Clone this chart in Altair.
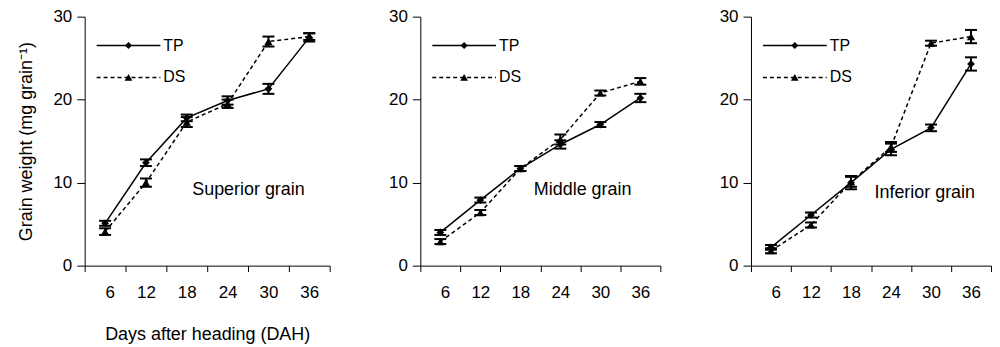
import altair as alt
import pandas as pd

days = [6, 12, 18, 24, 30, 36]
series_names = ["TP", "DS"]

sup_tp = [5.1, 12.4, 17.8, 19.9, 21.3, 27.5]
sup_tp_err = [0.3, 0.4, 0.4, 0.5, 0.6, 0.5]
sup_ds = [4.1, 10.0, 17.3, 19.5, 27.0, 27.6]
sup_ds_err = [0.4, 0.5, 0.6, 0.5, 0.6, 0.4]

mid_tp = [4.0, 7.9, 11.7, 14.6, 17.0, 20.2]
mid_tp_err = [0.3, 0.3, 0.3, 0.5, 0.3, 0.5]
mid_ds = [2.9, 6.4, 11.7, 15.2, 20.8, 22.2]
mid_ds_err = [0.3, 0.3, 0.3, 0.6, 0.3, 0.4]

inf_tp = [2.2, 6.1, 10.0, 14.0, 16.6, 24.3]
inf_tp_err = [0.3, 0.3, 0.8, 0.7, 0.4, 0.8]
inf_ds = [1.8, 4.9, 10.1, 14.3, 26.8, 27.6]
inf_ds_err = [0.3, 0.3, 0.6, 0.6, 0.3, 0.8]

panel_labels = ["Superior grain", "Middle grain", "Inferior grain"]
y_ticks = [0, 10, 20, 30]
x_title = "Days after heading (DAH)"
y_title = "Grain weight (mg grain\u207b\u00b9)"

FONT = "Liberation Sans"
H = 250


def make_df(tp, tp_err, ds, ds_err):
    rows = []
    for name, vals, errs in (("TP", tp, tp_err), ("DS", ds, ds_err)):
        for d, v, e in zip(days, vals, errs):
            rows.append({"day": d, "series": name, "mean": v,
                         "lo": v - e, "hi": v + e})
    return pd.DataFrame(rows)


def panel(tp, tp_err, ds, ds_err, label, width, first, lab_x, lab_y):
    df = make_df(tp, tp_err, ds, ds_err)
    band = width / 6.0
    bounds = [days[0] - 3] + [d + 3 for d in days]
    x_axis = alt.Axis(
        values=bounds,
        labelExpr="datum.value < %d ? format(datum.value + 3, 'd') : ''" % bounds[-1],
        labelOffset=band / 2,
        tickSize=6, labelPadding=13, grid=False,
        title=x_title if first else None,
        titlePadding=25,
    )
    y_axis = alt.Axis(
        values=y_ticks, tickSize=8, labelPadding=5, grid=False,
        title=y_title if first else None, titlePadding=17,
    )
    xs = alt.Scale(domain=[bounds[0], bounds[-1]], nice=False, zero=False)
    ys = alt.Scale(domain=[0, 30], nice=False)
    X = alt.X("day:Q", scale=xs, axis=x_axis)

    def Y(field):
        return alt.Y(field + ":Q", scale=ys, axis=y_axis)

    base = alt.Chart(df)
    tp_line = base.transform_filter(alt.datum.series == "TP").mark_line(
        color="black", strokeWidth=1.5).encode(x=X, y=Y("mean"))
    ds_line = base.transform_filter(alt.datum.series == "DS").mark_line(
        color="black", strokeWidth=1.5, strokeDash=[4, 3]).encode(x=X, y=Y("mean"))
    err = base.mark_rule(color="black", strokeWidth=2).encode(
        x=X, y=Y("lo"), y2="hi:Q")
    cap_lo = base.mark_tick(color="black", size=12, thickness=2, opacity=1,
                            orient="horizontal").encode(x=X, y=Y("lo"))
    cap_hi = base.mark_tick(color="black", size=12, thickness=2, opacity=1,
                            orient="horizontal").encode(x=X, y=Y("hi"))
    tp_pts = base.transform_filter(alt.datum.series == "TP").mark_point(
        shape="diamond", filled=True, color="black", size=60, opacity=1
    ).encode(x=X, y=Y("mean"))
    ds_pts = base.transform_filter(alt.datum.series == "DS").mark_point(
        shape="triangle-up", filled=True, color="black", size=70, opacity=1
    ).encode(x=X, y=Y("mean"))

    # in-plot legend
    leg = alt.Chart(pd.DataFrame({"series": series_names}))
    tp_leg = leg.transform_filter(alt.datum.series == "TP")
    ds_leg = leg.transform_filter(alt.datum.series == "DS")
    l_tp_line = tp_leg.mark_rule(color="black", strokeWidth=1.5).encode(
        x=alt.value(12), x2=alt.value(76), y=alt.value(29))
    l_tp_pt = tp_leg.mark_point(shape="diamond", filled=True, color="black",
                                size=50, opacity=1).encode(
        x=alt.value(44), y=alt.value(29))
    l_tp_txt = tp_leg.mark_text(align="left", baseline="middle", fontSize=16,
                                font=FONT, color="black").encode(
        x=alt.value(79), y=alt.value(29), text="series:N")
    l_ds_line = ds_leg.mark_rule(color="black", strokeWidth=1.5,
                                 strokeDash=[4, 3]).encode(
        x=alt.value(12), x2=alt.value(76), y=alt.value(61))
    l_ds_pt = ds_leg.mark_point(shape="triangle-up", filled=True, color="black",
                                size=60, opacity=1).encode(
        x=alt.value(44), y=alt.value(61))
    l_ds_txt = ds_leg.mark_text(align="left", baseline="middle", fontSize=16,
                                font=FONT, color="black").encode(
        x=alt.value(79), y=alt.value(61), text="series:N")

    ann = alt.Chart(pd.DataFrame({"label": [label]})).mark_text(
        align="left", baseline="middle", fontSize=18, font=FONT, color="black"
    ).encode(x=alt.value(lab_x), y=alt.value(lab_y), text="label:N")

    return alt.layer(
        tp_line, ds_line, err, cap_lo, cap_hi, tp_pts, ds_pts,
        l_tp_line, l_tp_pt, l_tp_txt, l_ds_line, l_ds_pt, l_ds_txt, ann
    ).properties(width=width, height=H)


p1 = panel(sup_tp, sup_tp_err, sup_ds, sup_ds_err, panel_labels[0], 246, True, 108, 174)
p2 = panel(mid_tp, mid_tp_err, mid_ds, mid_ds_err, panel_labels[1], 241, False, 114, 174)
p3 = panel(inf_tp, inf_tp_err, inf_ds, inf_ds_err, panel_labels[2], 241, False, 124, 177)

chart = alt.hconcat(p1, p2, p3, spacing=58).properties(
    padding={"left": 10, "top": -1, "right": 0, "bottom": 0},
    background="white",
).configure_view(stroke=None).configure_axis(
    domainColor="black", tickColor="black", labelColor="black",
    titleColor="black", labelFont=FONT, titleFont=FONT,
    labelFontSize=17, titleFontSize=18, titleFontWeight="normal",
    domainWidth=1, tickWidth=1,
)

chart.save("out.html", embed_options={"renderer": "svg", "actions": False})
